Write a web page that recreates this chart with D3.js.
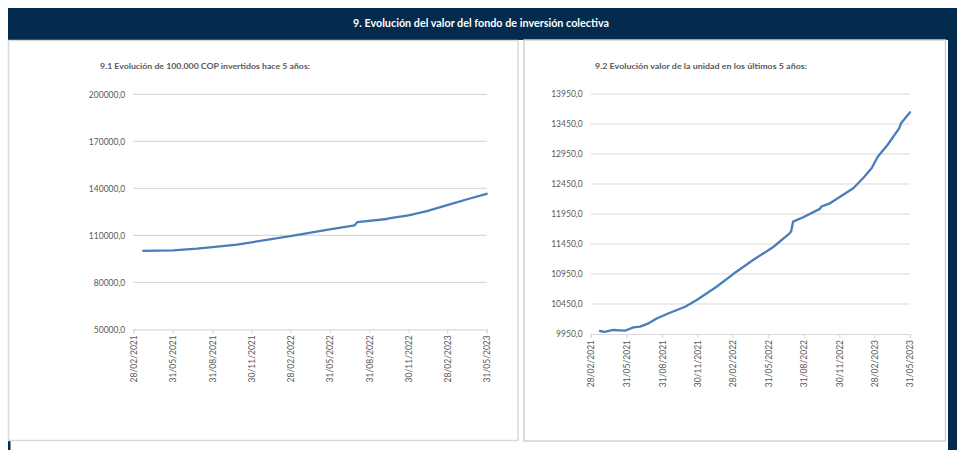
<!DOCTYPE html>
<html><head><meta charset="utf-8">
<script src="https://cdn.jsdelivr.net/npm/d3@7"></script>
<style>
body{margin:0;background:#fff;}
svg{display:block;font-family:Lato,"Open Sans",sans-serif;}
</style></head><body>
<svg id="c" width="957" height="450"></svg>
<script>
const pageTitle = "9. Evolución del valor del fondo de inversión colectiva";
const leftTitle = "9.1 Evolución de 100.000 COP invertidos hace 5 años:";
const rightTitle = "9.2 Evolución valor de la unidad en los últimos 5 años:";
const xTickLabels = ["28/02/2021","31/05/2021","31/08/2021","30/11/2021","28/02/2022","31/05/2022","31/08/2022","30/11/2022","28/02/2023","31/05/2023"];
const leftYTicks = [50000,80000,110000,140000,170000,200000];
const rightYTicks = [9950,10450,10950,11450,11950,12450,12950,13450,13950];

const leftDates = ["2021-03-23","2021-05-31","2021-07-26","2021-08-31","2021-10-27","2021-11-30","2022-02-28","2022-05-31","2022-07-28","2022-08-03","2022-10-11","2022-10-15","2022-11-30","2023-01-12","2023-02-28","2023-04-22","2023-05-31"];
const leftValues = [100100,100400,101450,102500,104000,105500,109500,113800,116400,118400,120400,120800,122700,125400,129200,133500,136500];

const rightDates = ["2021-03-24","2021-04-05","2021-04-27","2021-05-14","2021-05-27","2021-06-18","2021-07-05","2021-07-27","2021-08-18","2021-09-17","2021-10-29","2021-11-28","2022-01-18","2022-03-01","2022-04-22","2022-06-13","2022-07-25","2022-07-29","2022-08-03","2022-08-29","2022-10-11","2022-10-15","2022-11-06","2022-12-02","2023-01-05","2023-01-30","2023-02-21","2023-03-09","2023-04-03","2023-05-03","2023-05-08","2023-05-31"];
const rightValues = [10000,9985,10017,10011,10005,10060,10072,10128,10212,10295,10405,10517,10738,10945,11183,11400,11628,11660,11822,11895,12035,12075,12128,12238,12378,12545,12712,12905,13100,13378,13462,13645];

const navy = "#022b4d", grid = "#d9d9d9", txt = "#595959", lineCol = "#4a7ebb";
const svg = d3.select("#c");
const parseTick = d3.timeParse("%d/%m/%Y");
const parseISO = d3.timeParse("%Y-%m-%d");

// frame
svg.append("rect").attr("x",8).attr("y",8).attr("width",949).attr("height",32).attr("fill",navy);
svg.append("rect").attr("x",948).attr("y",40).attr("width",9).attr("height",410).attr("fill",navy);
svg.append("rect").attr("x",8).attr("y",441).attr("width",2.5).attr("height",9).attr("fill",navy);
svg.append("text").attr("x",481).attr("y",27).attr("text-anchor","middle").attr("fill","#fff")
  .attr("font-weight","bold").attr("font-size",11).attr("textLength",256).attr("lengthAdjust","spacingAndGlyphs").text(pageTitle);

// panels
svg.append("rect").attr("x",8.5).attr("y",40.5).attr("width",509.5).attr("height",400).attr("fill","#fff").attr("stroke",grid).attr("stroke-width",1.5);
svg.append("rect").attr("x",524).attr("y",40).attr("width",421.5).attr("height",401).attr("fill","#fff").attr("stroke","#d0d3d6").attr("stroke-width",1.5);

function drawChart(cfg){
  const g = svg.append("g");
  const x = d3.scaleTime().domain([parseTick(xTickLabels[0]), parseTick(xTickLabels[xTickLabels.length-1])]).range([cfg.x0,cfg.x1]);
  const y = d3.scaleLinear().domain([cfg.yTicks[0], cfg.yTicks[cfg.yTicks.length-1]]).range([cfg.y0,cfg.y1]);
  g.append("text").attr("x",cfg.titleX).attr("y",69).attr("fill",txt).attr("font-weight","bold").attr("font-size",8)
    .attr("textLength",cfg.titleW).attr("lengthAdjust","spacingAndGlyphs").text(cfg.title);
  // gridlines
  g.selectAll(".gl").data(cfg.yTicks.slice(1)).enter().append("line")
    .attr("x1",cfg.x0).attr("x2",cfg.x1).attr("y1",d=>y(d)).attr("y2",d=>y(d)).attr("stroke",grid).attr("stroke-width",1.2);
  // y axis labels
  const ya = d3.axisLeft(y).tickValues(cfg.yTicks).tickSize(0).tickPadding(8).tickFormat(d=>d3.format("d")(d)+",0");
  const yg = g.append("g").attr("transform",`translate(${cfg.x0},0)`).call(ya);
  yg.select(".domain").remove();
  yg.selectAll("text").attr("fill",txt).attr("font-size",8.5).attr("font-family","Lato,sans-serif");
  // x axis
  const xa = d3.axisBottom(x).tickValues(xTickLabels.map(parseTick)).tickSize(4).tickFormat(d3.timeFormat("%d/%m/%Y"));
  const xg = g.append("g").attr("transform",`translate(0,${cfg.y0})`).call(xa);
  xg.select(".domain").attr("stroke",grid).attr("stroke-width",1.2);
  xg.selectAll(".tick line").attr("stroke",grid).attr("stroke-width",1.2);
  xg.selectAll("text").attr("fill",txt).attr("font-size",8.5).attr("font-family","Lato,sans-serif")
    .attr("transform","rotate(-90)").attr("text-anchor","end").attr("x",-6).attr("y",0).attr("dy","0.35em");
  // line
  const pts = cfg.dates.map((d,i)=>[parseISO(d), cfg.values[i]]);
  g.append("path").datum(pts).attr("fill","none").attr("stroke",lineCol).attr("stroke-width",2.3)
    .attr("stroke-linejoin","round").attr("stroke-linecap","round")
    .attr("d", d3.line().x(d=>x(d[0])).y(d=>y(d[1])));
}

drawChart({x0:133.3,x1:486.7,y0:329.3,y1:94.3,yTicks:leftYTicks,dates:leftDates,values:leftValues,title:leftTitle,titleX:100,titleW:210});
drawChart({x0:590.7,x1:910,y0:334,y1:94,yTicks:rightYTicks,dates:rightDates,values:rightValues,title:rightTitle,titleX:595,titleW:212});
</script>
</body></html>
